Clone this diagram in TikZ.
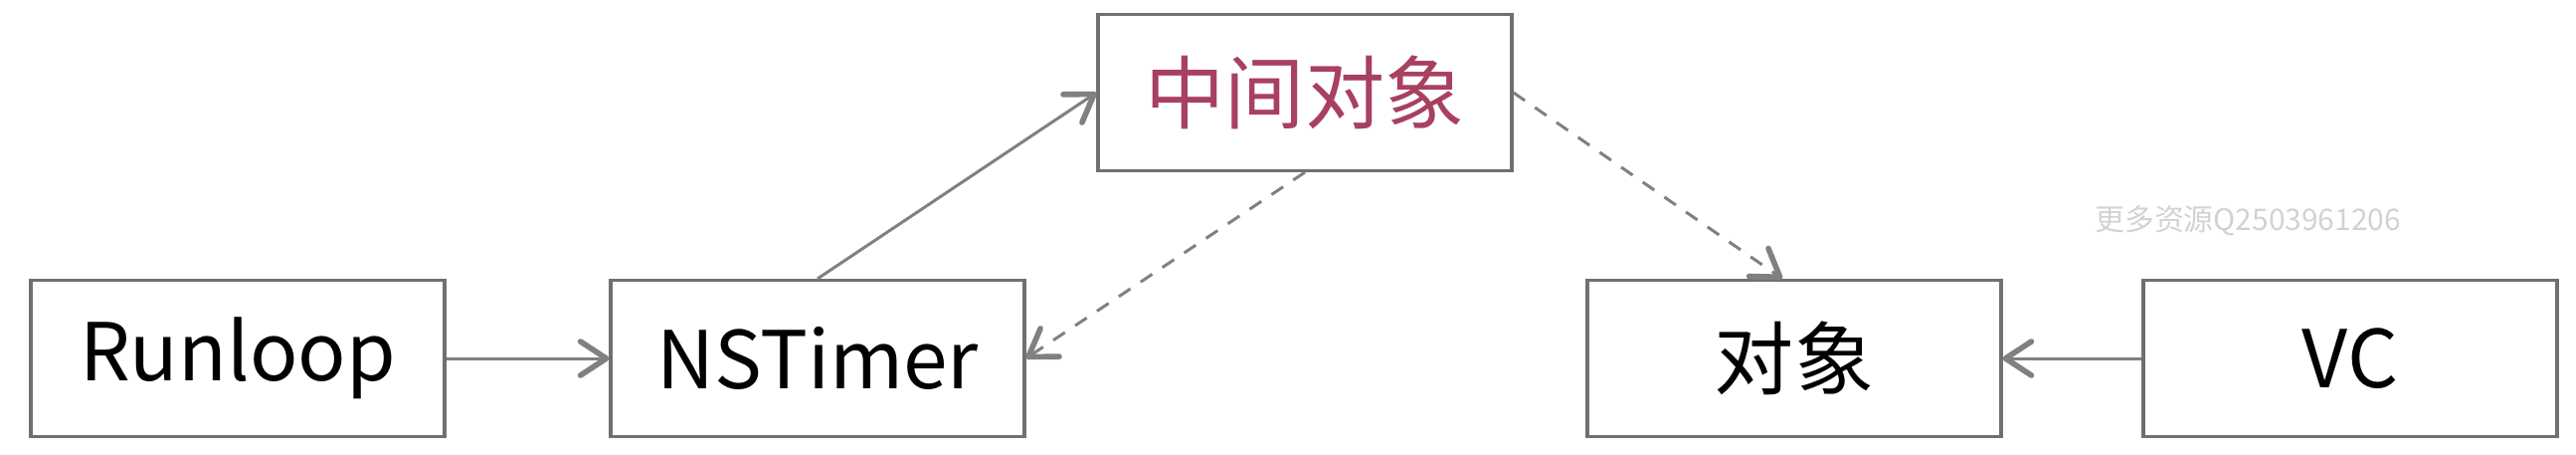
\documentclass[tikz,border=0pt]{standalone}
\usepackage{fontspec}
\setmainfont{Noto Sans CJK SC}
\usetikzlibrary{arrows.meta}
\definecolor{boxgray}{HTML}{707070}
\definecolor{linegray}{HTML}{808080}
\definecolor{midred}{HTML}{A84060}
\definecolor{markgray}{HTML}{D2D2D2}
\begin{document}
\begin{tikzpicture}
[
box/.style = {draw=boxgray, line width=0.9pt, minimum width=4.16cm, minimum height=1.57cm, font=\fontsize{22.8}{26}\selectfont},
link/.style = {draw=linegray, line width=0.85pt, -{Straight Barb[length=2.6mm, width=3.4mm, line width=1.6pt, round]}},
weak/.style = {link, dashed, dash pattern=on 4pt off 3.5pt}
]
\useasboundingbox (0,0) rectangle (25.9,-4.56);
\node [box] (runloop) at (2.39,-3.6) {Runloop};
\node [box] (timer) at (8.22,-3.6) {NSTimer};
\node [box, text=midred] (proxy) at (13.12,-0.93) {中间对象};
\node [box] (target) at (18.04,-3.6) {对象};
\node [box] (vc) at (23.63,-3.6) {VC};
\node [text=markgray, font=\fontsize{8.5}{10}\selectfont, inner sep=0pt] (mark) at (22.6,-2.22) {更多资源Q2503961206};
\draw [link] (runloop) -- (timer);
\draw [link] (timer.north) -- (proxy.west);
\draw [weak] (proxy.south) -- (timer.east);
\draw [weak] (proxy.east) -- ([xshift=-0.12cm]target.north);
\draw [link] (vc) -- (target);
\end{tikzpicture}
\end{document}
